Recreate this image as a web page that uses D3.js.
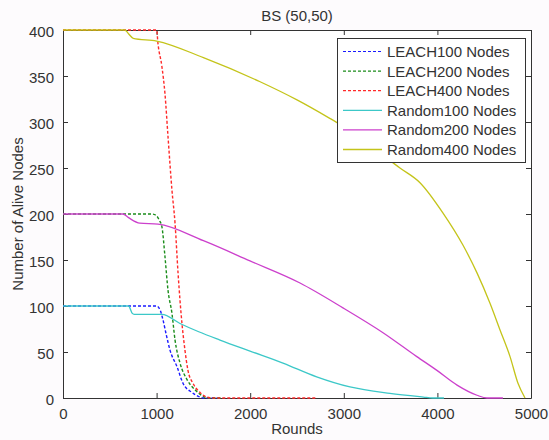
<!DOCTYPE html>
<html><head><meta charset="utf-8">
<script src="https://cdn.jsdelivr.net/npm/d3@7/dist/d3.min.js"></script>
<style>
html,body{margin:0;padding:0;background:#fdfbfd;}
svg{display:block;}
text{font-family:"Liberation Sans",Arial,Helvetica,sans-serif;fill:#333;}
</style></head>
<body>
<script>
// ---- data ----
const title = "BS (50,50)";
const xLabel = "Rounds";
const yLabel = "Number of Alive Nodes";
const xTicks = [0,1000,2000,3000,4000,5000];
const yTicks = [0,50,100,150,200,250,300,350,400];
const seriesNames = ["LEACH100 Nodes","LEACH200 Nodes","LEACH400 Nodes","Random100 Nodes","Random200 Nodes","Random400 Nodes"];
const leach100 = [[0,100],[1000,100],[1040,95],[1068,85],[1105,68],[1143,52],[1218,34],[1282,16],[1378,6],[1464,1],[1500,0],[1650,0]];
const leach200 = [[0,200],[950,200],[1000,198],[1030,193],[1057,186],[1090,153],[1122,117],[1164,92],[1197,63],[1250,38],[1325,20],[1410,9],[1496,2],[1550,0],[1700,0]];
const leach400 = [[0,400],[1000,400],[1015,385],[1057,360],[1090,330],[1122,284],[1164,226],[1197,190],[1229,136],[1271,81],[1303,52],[1335,30],[1389,16],[1464,6],[1538,1],[1600,0],[2700,0]];
const random100 = [[0,100],[700,100],[740,92],[760,91],[1057,91],[1250,81],[1450,72],[1677,63],[1998,51],[2350,38],[2710,23],[3066,12],[3493,5],[3850,1],[3950,0],[4070,0]];
const random200 = [[0,200],[640,200],[700,196],[820,190],[1015,189],[1500,171],[1998,149],[2532,125],[2991,98],[3419,71],[3780,45],[3995,30],[4210,14],[4423,3],[4530,0],[4700,0]];
const random400 = [[0,400],[660,400],[700,396],[750,391],[1000,388],[1500,370],[2100,344],[2500,324],[2850,304],[3000,295],[3300,273],[3600,250],[3814,234],[4060,201],[4274,166],[4423,136],[4562,103],[4669,74],[4776,45],[4861,16],[4936,0]];
const seriesData = [leach100,leach200,leach400,random100,random200,random400];
const colors = ["#1a1aff","#1a8c1a","#ff2a2a","#3cc8c8","#cc40cc","#c4c41a"];
const dashed = [true,true,true,false,false,false];

// ---- layout ----
const W=549,H=440;
const L=63,R=531,T=30,B=398;
const svg=d3.select("body").append("svg").attr("width",W).attr("height",H);
svg.append("rect").attr("width",W).attr("height",H).attr("fill","#fdfbfd");
const x=d3.scaleLinear().domain([0,5000]).range([L,R]);
const y=d3.scaleLinear().domain([0,400]).range([B,T]);

svg.append("rect").attr("x",L).attr("y",T).attr("width",R-L).attr("height",B-T).attr("fill","#ffffff");

const fs=15;
const fmt=d3.format("d");
// axes with inward ticks
const axB=svg.append("g").attr("transform",`translate(0,${B})`)
  .call(d3.axisBottom(x).tickValues(xTicks).tickFormat(fmt).tickSizeInner(-5).tickSizeOuter(0).tickPadding(10));
const axT=svg.append("g").attr("transform",`translate(0,${T})`)
  .call(d3.axisTop(x).tickValues(xTicks).tickSizeInner(-5).tickSizeOuter(0).tickFormat(""));
const axL=svg.append("g").attr("transform",`translate(${L},0)`)
  .call(d3.axisLeft(y).tickValues(yTicks).tickFormat(fmt).tickSizeInner(-5).tickSizeOuter(0).tickPadding(9));
const axR=svg.append("g").attr("transform",`translate(${R},0)`)
  .call(d3.axisRight(y).tickValues(yTicks).tickSizeInner(-5).tickSizeOuter(0).tickFormat(""));
[axB,axT,axL,axR].forEach(a=>{
  a.selectAll("path").attr("stroke","#333").attr("stroke-width",1);
  a.selectAll("line").attr("stroke","#333");
  a.selectAll("text").style("font-size",fs+"px").style("font-family","Liberation Sans, Arial, sans-serif").attr("fill","#333");
});
axL.selectAll("text").attr("dy","0.42em");

// lines
const line=d3.line().x(d=>x(d[0])).y(d=>y(d[1])).curve(d3.curveMonotoneX);
const plot=svg.append("g");
seriesData.forEach((s,i)=>{
  plot.append("path").datum(s).attr("d",line).attr("fill","none")
    .attr("stroke",colors[i]).attr("stroke-width",dashed[i]?1.4:1.3)
    .attr("stroke-dasharray",dashed[i]?"3,2":null);
});

// titles
svg.append("text").attr("x",(L+R)/2).attr("y",21).attr("text-anchor","middle").style("font-size",fs+"px").text(title);
svg.append("text").attr("x",(L+R)/2).attr("y",434).attr("text-anchor","middle").style("font-size",fs+"px").text(xLabel);
svg.append("text").attr("transform",`translate(23,${(T+B)/2}) rotate(-90)`).attr("text-anchor","middle").style("font-size",fs+"px").text(yLabel);

// legend
const lg=svg.append("g");
lg.append("rect").attr("x",337.5).attr("y",38.5).attr("width",188).attr("height",124).attr("fill","#ffffff").attr("stroke","#333");
seriesNames.forEach((n,i)=>{
  const ly=51.5+i*19.6;
  lg.append("line").attr("x1",343).attr("x2",382).attr("y1",ly).attr("y2",ly)
    .attr("stroke",colors[i]).attr("stroke-width",dashed[i]?1.2:1.3).attr("stroke-dasharray",dashed[i]?"3,2":null);
  lg.append("text").attr("x",387).attr("y",ly+5.5).style("font-size",fs+"px").text(n);
});
</script>
</body></html>
